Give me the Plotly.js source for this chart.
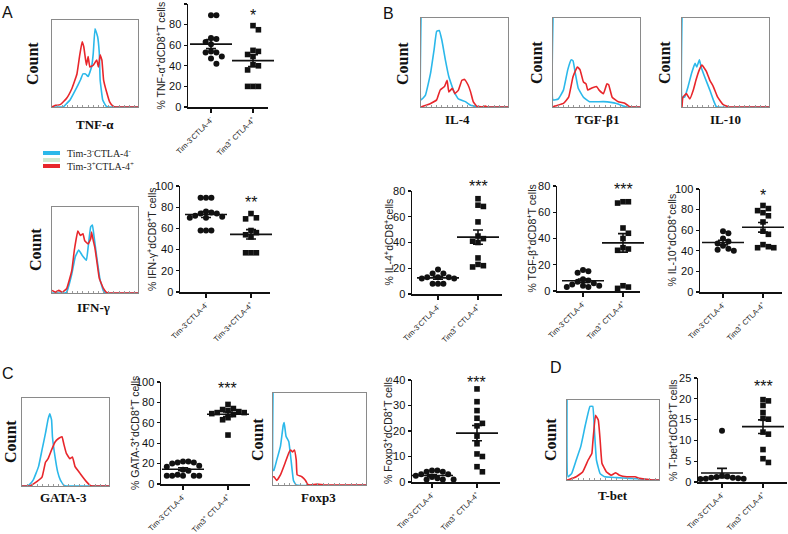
<!DOCTYPE html>
<html><head><meta charset="utf-8">
<script src="https://cdn.plot.ly/plotly-3.0.1.min.js"></script>
<style>body{margin:0;background:#fff}#chart{width:788px;height:534px}</style>
</head><body><div id="chart"></div>
<script>
// ---------- histogram curves: [x, y] (x: 0-100 across box, y: 0-100 box height) ----------
const tnfBlue = [[0,0],[13,0],[17,4],[21,8],[27,19],[33,31],[36,38],[39,38],[42,35],[46,46],[48,62],[50,90],[53,81],[55,62],[56,31],[59,8],[63,1],[66,0],[100,0]];
const tnfRed  = [[0,0],[4,2],[6,2],[10,3],[17,10],[23,21],[29,38],[32,58],[35,75],[37,69],[40,48],[42,58],[44,46],[48,48],[52,54],[54,46],[56,60],[58,54],[60,31],[63,19],[67,6],[71,1],[74,0],[100,0]];
const ifnBlue = [[0,0],[15,0],[17,1],[23,22],[27,42],[31,50],[35,44],[40,38],[42,53],[45,77],[47,79],[49,65],[52,42],[56,15],[60,2],[63,0],[100,0]];
const ifnRed  = [[0,3],[4,1],[8,3],[12,1],[17,5],[23,26],[26,50],[30,72],[33,67],[36,69],[38,61],[42,57],[45,63],[46,71],[48,61],[50,52],[52,38],[55,17],[60,5],[63,1],[66,0],[100,0]];
const il4Blue = [[0,100],[0,8],[5,13],[11,38],[15,64],[18,85],[21,86],[24,75],[28,53],[32,34],[38,17],[43,9],[51,6],[57,2],[62,1],[65,0],[100,0]];
const il4Red  = [[0,0],[3,1],[11,4],[18,8],[22,19],[27,23],[30,30],[32,17],[36,21],[39,15],[43,19],[47,30],[50,31],[54,25],[57,17],[60,6],[64,1],[70,0],[74,1],[76,0],[100,0]];
const tgfBlue = [[0,100],[0,8],[6,9],[12,19],[17,42],[21,53],[23,52],[26,36],[29,21],[35,11],[42,6],[58,6],[73,4],[81,1],[84,0],[100,0]];
const tgfRed  = [[0,0],[2,1],[12,4],[18,11],[23,34],[28,45],[31,42],[35,28],[38,26],[40,19],[44,21],[50,23],[53,19],[58,15],[62,26],[64,25],[68,11],[75,6],[83,4],[87,1],[90,0],[100,0]];
const il10Blue = [[0,100],[0,11],[3,11],[7,23],[11,38],[15,49],[17,45],[20,53],[22,45],[26,34],[32,19],[36,8],[39,1],[41,0],[100,0]];
const il10Red  = [[0,0],[1,11],[5,15],[9,9],[13,19],[16,30],[20,42],[23,47],[28,40],[32,30],[36,23],[41,11],[47,3],[51,1],[54,0],[100,0]];
const gataBlue = [[0,0],[6,0],[8,1],[13,7],[19,22],[23,41],[27,60],[30,76],[32,82],[34,75],[35,56],[38,33],[41,16],[44,7],[48,1],[51,0],[100,0]];
const gataRed  = [[0,0],[9,0],[11,1],[17,5],[23,10],[27,27],[30,31],[34,41],[38,50],[42,54],[46,56],[48,48],[51,37],[55,31],[58,33],[61,22],[67,14],[70,10],[74,5],[78,1],[81,0],[100,0]];
const foxBlue = [[0,100],[0,16],[1,16],[4,27],[8,42],[11,65],[12,68],[14,53],[17,47],[19,31],[22,5],[25,0],[100,0]];
const foxRed  = [[0,9],[1,9],[4,5],[8,11],[13,24],[17,35],[19,38],[21,36],[23,38],[25,27],[26,11],[31,9],[35,5],[37,1],[40,0],[48,1],[55,0],[100,0]];
const tbetBlue = [[0,100],[1,4],[5,8],[10,25],[15,42],[20,69],[25,92],[28,92],[30,58],[32,25],[36,8],[41,4],[54,3],[68,2],[83,1],[90,0],[100,0]];
const tbetRed  = [[0,0],[3,1],[10,4],[17,10],[23,25],[27,33],[28,46],[31,81],[34,75],[36,50],[38,21],[43,10],[48,6],[53,9],[57,6],[65,4],[74,4],[79,2],[87,1],[92,0],[100,0]];

// ---------- dot-plot values (% cells) ----------
const groupLabels = ["Tim-3<sup>-</sup>CTLA-4<sup>-</sup>", "Tim3<sup>+</sup> CTLA-4<sup>+</sup>"];
const groupLabelsIfn = ["Tim-3<sup>-</sup>CTLA-4<sup>-</sup>", "Tim-3+CTLA-4<sup>+</sup>"];
const tnfNeg  = [89, 89, 67, 66, 63, 61, 54, 53, 53, 49, 47, 42];
const tnfPos  = [79, 75, 55, 54, 51, 49, 41, 40, 36, 20, 20, 20];
const ifnNeg  = [89, 89, 89, 76, 75, 74, 74, 72, 71, 70, 70, 58, 58, 58];
const ifnPos  = [74, 70, 69, 58, 56, 54, 52, 37, 37, 37];
const il4Neg  = [19, 16, 16, 13, 13, 13, 12, 12, 8, 8, 8];
const il4Pos  = [74, 69, 68, 56, 45, 43, 41, 40, 28, 23, 22, 21];
const tgfNeg  = [16, 15, 14, 9, 8, 7, 6, 5, 4, 4, 3, 3];
const tgfPos  = [68, 68, 67, 48, 44, 40, 33, 32, 31, 4, 3, 2];
const il10Neg = [59, 57, 52, 49, 47, 45, 42, 41, 40];
const il10Pos = [84, 81, 79, 77, 74, 68, 59, 56, 46, 44, 43, 43];
const gataNeg = [22, 22, 21, 21, 20, 18, 17, 14, 13, 9, 8, 8, 8, 8, 8];
const gataPos = [78, 74, 73, 72, 71, 70, 70, 69, 68, 65, 63, 48];
const foxNeg  = [4.5, 4.5, 4, 4, 3, 3, 2.5, 2, 1.5, 1, 1, 1, 1];
const foxPos  = [36.5, 31.5, 28, 25, 23, 22, 18, 15, 11, 10, 6, 4];
const tbetNeg = [12.3, 1.5, 1.3, 1.2, 1.0, 1.0, 0.9, 0.8, 0.8, 0.7];
const tbetPos = [19.8, 19.5, 18.4, 16.7, 15.3, 15.1, 12.0, 11.5, 7.8, 5.6, 4.7];

// ---------- layout config (pixel boxes) ----------
const W = 788, H = 534;
const CYAN = "#2bb8ea", RED = "#e8262b";
const px = x => x / W, py = y => 1 - y / H;

const hists = [
  {blue: tnfBlue, red: tnfRed, box: [52,138,20,107], label: "TNF-α", lab: [95,124], cnt: [33,64]},
  {blue: ifnBlue, red: ifnRed, box: [52,138,207,293], label: "IFN-γ", lab: [93,307], cnt: [35,250]},
  {blue: il4Blue, red: il4Red, box: [421,508,18,107], label: "IL-4", lab: [457,119], cnt: [403,63]},
  {blue: tgfBlue, red: tgfRed, box: [553,640,18,107], label: "TGF-β1", lab: [597,119], cnt: [537,63]},
  {blue: il10Blue, red: il10Red, box: [682,769,18,107], label: "IL-10", lab: [725,119], cnt: [665,63]},
  {blue: gataBlue, red: gataRed, box: [22,109,398,486], label: "GATA-3", lab: [63,498], cnt: [10,442]},
  {blue: foxBlue, red: foxRed, box: [273,366,393,485], label: "Foxp3", lab: [318,497], cnt: [257,440]},
  {blue: tbetBlue, red: tbetRed, box: [567,659,400,480], label: "T-bet", lab: [613,495], cnt: [550,440]},
];

const dots = [
  {neg: tnfNeg, pos: tnfPos, box: [188,268,4,107], tk: [211,253], ymax: 100, dtick: 20, title: "% TNF-α<sup>+</sup>dCD8<sup>+</sup>T cells", tx: 160, star: "*", starY: 91, labels: groupLabels},
  {neg: ifnNeg, pos: ifnPos, box: [180,270,186,292], tk: [206,251], ymax: 100, dtick: 20, title: "% IFN-γ<sup>+</sup>dCD8<sup>+</sup>T cells", tx: 151, star: "**", starY: 86, labels: groupLabelsIfn},
  {neg: il4Neg, pos: il4Pos, box: [412,502,191,294], tk: [438,478], ymax: 80, dtick: 20, title: "% IL-4<sup>+</sup>dCD8<sup>+</sup>cells", tx: 388, star: "***", starY: 85, labels: groupLabels},
  {neg: tgfNeg, pos: tgfPos, box: [557,640,186,291], tk: [583,623], ymax: 80, dtick: 20, title: "% TGF-β<sup>+</sup>dCD8<sup>+</sup>T cells", tx: 531, star: "***", starY: 79, labels: groupLabels},
  {neg: il10Neg, pos: il10Pos, box: [700,782,189,292], tk: [723,763], ymax: 100, dtick: 20, title: "% IL-10<sup>+</sup>dCD8<sup>+</sup>cells", tx: 671, star: "*", starY: 96, labels: groupLabels},
  {neg: gataNeg, pos: gataPos, box: [161,250,382,484], tk: [183,228], ymax: 100, dtick: 20, title: "% GATA-3<sup>+</sup>dCD8<sup>+</sup>T cells", tx: 134, star: "***", starY: 96, labels: groupLabels},
  {neg: foxNeg, pos: foxPos, box: [412,500,380,482], tk: [432,477], ymax: 40, dtick: 10, title: "% Foxp3<sup>+</sup>dCD8<sup>+</sup>T cells", tx: 387, star: "***", starY: 40, labels: groupLabels},
  {neg: tbetNeg, pos: tbetPos, box: [698,787,378,482], tk: [722,763], ymax: 25, dtick: 5, title: "% T-bet<sup>+</sup>dCD8<sup>+</sup>T cells", tx: 672, star: "***", starY: 23.5, labels: groupLabels},
];

// ---------- helpers ----------
function swarm(vals, pxY, pxCat) {
  const d = 5.4;
  const order = vals.map((v, i) => i).sort((a, b) => vals[b] - vals[a]);
  const placed = [], off = new Array(vals.length).fill(0);
  const cands = [0];
  for (let j = 1; j < 12; j++) cands.push(j * d, -j * d);
  for (const i of order) {
    const yp = vals[i] * pxY;
    let c = cands.find(c => placed.every(p => Math.hypot(p[0] - c, p[1] - yp) >= d));
    if (c === undefined) c = 0;
    placed.push([c, yp]);
    off[i] = c / pxCat;
  }
  return off;
}
const mean = a => a.reduce((s, v) => s + v, 0) / a.length;
const sem = a => { const m = mean(a); return Math.sqrt(a.reduce((s, v) => s + (v - m) ** 2, 0) / (a.length - 1)) / Math.sqrt(a.length); };

const traces = [], layout = {
  width: W, height: H, margin: {l: 0, r: 0, t: 0, b: 0},
  paper_bgcolor: "#fff", plot_bgcolor: "rgba(0,0,0,0)", showlegend: false,
  font: {family: "Liberation Sans, Arial, sans-serif", color: "#111"},
  annotations: [], shapes: []
};
let n = 0;
const serif = "Liberation Serif, Times New Roman, serif";

hists.forEach(h => {
  n++;
  const xa = "x" + n, ya = "y" + n;
  const [x0, x1, y0, y1] = h.box;
  layout["xaxis" + n] = {domain: [px(x0), px(x1)], range: [0, 100], anchor: ya, showline: true, mirror: true,
    linecolor: "#8a8a8a", linewidth: 1, ticks: "inside", ticklen: 2, tickcolor: "#9a9a9a", dtick: 6,
    showticklabels: false, showgrid: false, zeroline: false, fixedrange: true};
  layout["yaxis" + n] = {domain: [py(y1), py(y0)], range: [0, 100], anchor: xa, showline: true, mirror: true,
    linecolor: "#8a8a8a", linewidth: 1, ticks: "", showticklabels: false, showgrid: false, zeroline: false, fixedrange: true};
  [[h.blue, CYAN], [h.red, RED]].forEach(([c, col]) => traces.push({
    type: "scatter", mode: "lines", xaxis: xa, yaxis: ya, x: c.map(p => p[0]), y: c.map(p => p[1]),
    line: {color: col, width: 1.6, shape: "spline", smoothing: 0.3}, hoverinfo: "skip"}));
  layout.annotations.push({xref: "paper", yref: "paper", x: px(h.lab[0]), y: py(h.lab[1]), text: "<b>" + h.label + "</b>",
    showarrow: false, xanchor: "center", yanchor: "middle", font: {family: serif, size: 13, color: "#111"}});
  layout.annotations.push({xref: "paper", yref: "paper", x: px(h.cnt[0]), y: py(h.cnt[1]), text: "<b>Count</b>", textangle: -90,
    showarrow: false, xanchor: "center", yanchor: "middle", font: {family: serif, size: 16, color: "#111"}});
});

dots.forEach(d => {
  n++;
  const xa = "x" + n, ya = "y" + n;
  const [x0, x1, y0, y1] = d.box;
  const pxCat = d.tk[1] - d.tk[0];
  const pxY = (y1 - y0) / d.ymax;
  layout["xaxis" + n] = {domain: [px(x0), px(x1)], range: [-(d.tk[0] - x0) / pxCat, 1 + (x1 - d.tk[1]) / pxCat], anchor: ya,
    showline: true, linecolor: "#111", linewidth: 1.5, ticks: "outside", ticklen: 4, tickwidth: 1.2, tickcolor: "#111",
    tickvals: [0, 1], ticktext: d.labels, tickangle: -45, tickfont: {size: 7.5, color: "#222"},
    showgrid: false, zeroline: false, fixedrange: true};
  layout["yaxis" + n] = {domain: [py(y1), py(y0)], range: [0, d.ymax], dtick: d.dtick, anchor: xa,
    showline: true, linecolor: "#111", linewidth: 1.5, ticks: "outside", ticklen: 3, tickwidth: 1.2, tickcolor: "#111",
    tickfont: {size: 11, color: "#111"}, showgrid: false, zeroline: false, fixedrange: true};
  [[d.neg, 0, "circle"], [d.pos, 1, "square"]].forEach(([vals, g, sym]) => {
    const off = swarm(vals, pxY, pxCat);
    traces.push({type: "scatter", mode: "markers", xaxis: xa, yaxis: ya, x: vals.map((v, i) => g + off[i]), y: vals,
      marker: {symbol: sym, size: sym === "circle" ? 6 : 5.6, color: "#111"}, hoverinfo: "y", cliponaxis: false});
    traces.push({type: "scatter", mode: "markers", xaxis: xa, yaxis: ya, x: [g], y: [mean(vals)],
      marker: {symbol: "line-ew", size: 30, color: "#111", line: {width: 1.6, color: "#111"}},
      error_y: {type: "data", array: [sem(vals)], visible: true, width: 5, thickness: 1.6, color: "#111"}, hoverinfo: "y", cliponaxis: false});
  });
  layout.annotations.push({xref: "paper", yref: "paper", x: px(d.tk[1]), y: py(y1 - d.starY * pxY + 2), text: d.star,
    showarrow: false, xanchor: "center", yanchor: "middle", font: {size: 16, color: "#111"}});
  layout.annotations.push({xref: "paper", yref: "paper", x: px(d.tx), y: py((y0 + y1) / 2), text: d.title, textangle: -90,
    showarrow: false, xanchor: "center", yanchor: "middle", font: {size: 10.5, color: "#222"}});
});

// panel letters
[["A", 7, 12], ["B", 388, 14], ["C", 8, 373], ["D", 556, 367]].forEach(([t, x, y]) =>
  layout.annotations.push({xref: "paper", yref: "paper", x: px(x), y: py(y), text: t, showarrow: false,
    xanchor: "center", yanchor: "middle", font: {size: 16, color: "#111"}}));

// legend
[[CYAN, 151, 155], ["#cfe8cf", 158, 162], [RED, 164, 168]].forEach(([c, a, b]) =>
  layout.shapes.push({type: "rect", xref: "paper", yref: "paper", x0: px(43), x1: px(60), y0: py(b), y1: py(a),
    fillcolor: c, line: {width: 0}}));
layout.annotations.push({xref: "paper", yref: "paper", x: px(65), y: py(153), text: "Tim-3<sup>-</sup>CTLA-4<sup>-</sup>",
  showarrow: false, xanchor: "left", yanchor: "middle", font: {family: serif, size: 10, color: "#222"}});
layout.annotations.push({xref: "paper", yref: "paper", x: px(65), y: py(166), text: "Tim-3<sup>+</sup>CTLA-4<sup>+</sup>",
  showarrow: false, xanchor: "left", yanchor: "middle", font: {family: serif, size: 10, color: "#222"}});

Plotly.newPlot("chart", traces, layout, {displayModeBar: false, staticPlot: true});
</script></body></html>
